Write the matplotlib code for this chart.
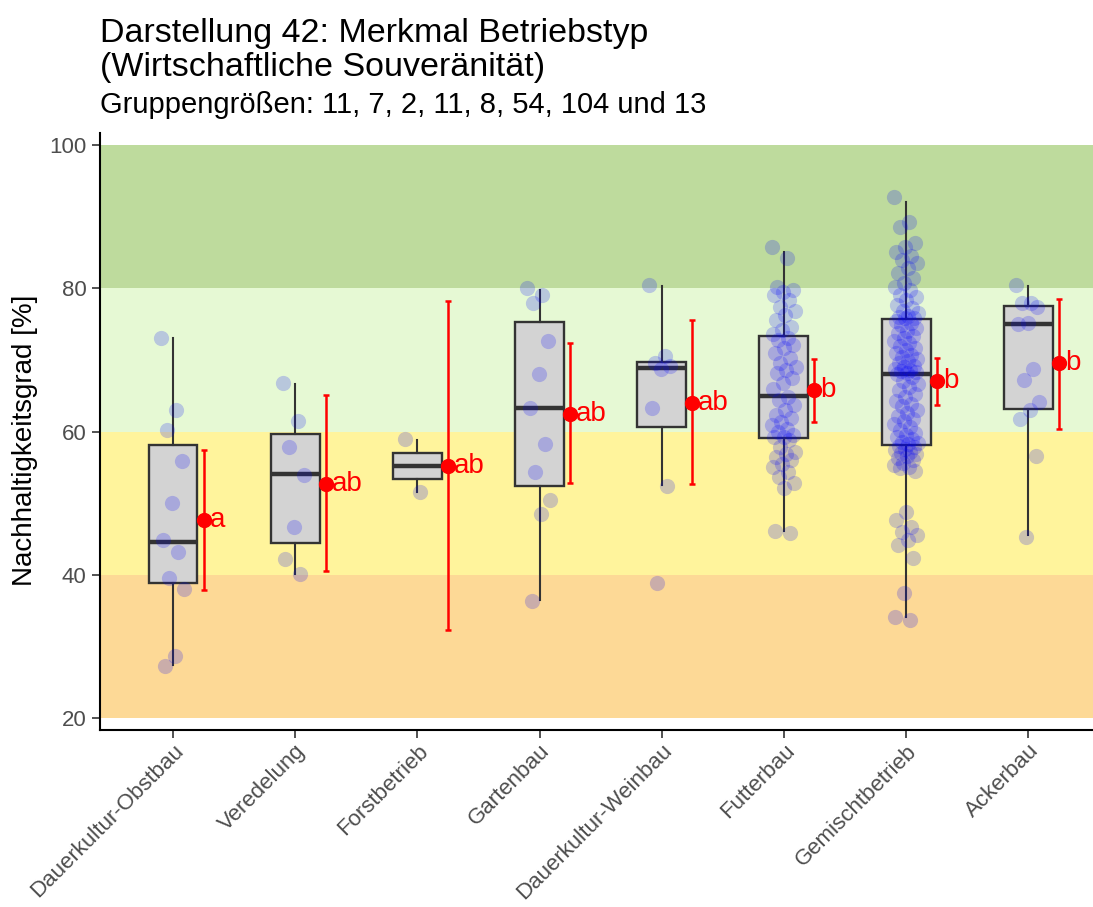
#!/usr/bin/env python3
"""Boxplot mit Einzelwerten, Mittelwert +/- KI und Buchstaben-Gruppen (Betriebstyp)."""

import numpy as np
import matplotlib
matplotlib.use('Agg')
import matplotlib.pyplot as plt

plt.rcParams['font.family'] = ['Liberation Sans', 'DejaVu Sans']

# --- Daten ---
categories = ['Dauerkultur-Obstbau', 'Veredelung', 'Forstbetrieb', 'Gartenbau',
              'Dauerkultur-Weinbau', 'Futterbau', 'Gemischtbetrieb', 'Ackerbau']

obstbau = [73.1, 63.0, 60.2, 55.9, 50.0, 44.8, 43.1, 39.6, 38.0, 28.6, 27.3]
veredelung = [66.8, 61.5, 57.8, 53.9, 46.6, 42.2, 40.1]
forst = [58.9, 51.5]
gartenbau = [80.1, 79.0, 77.9, 72.6, 68.0, 63.3, 58.2, 54.4, 50.4, 48.5, 36.3]
weinbau = [80.4, 70.6, 69.6, 69.2, 68.8, 63.3, 52.4, 38.9]
futterbau = [85.8, 84.2, 80.2, 79.8, 79.5, 79.1, 78.4, 77.4, 76.8, 76.3, 75.6, 74.6,
             74.2, 73.6, 73.0, 72.8, 72.1, 71.7, 71.0, 70.3, 69.6, 69.0, 68.6, 68.2,
             67.5, 66.8, 66.0, 64.8, 64.4, 63.7, 63.0, 62.3, 61.9, 61.3, 60.9, 60.4,
             60.0, 59.5, 59.3, 59.2, 58.8, 57.8, 57.1, 56.8, 56.4, 56.0, 55.5, 55.0,
             54.3, 53.6, 52.8, 52.1, 46.1, 45.8]
gemischt = [92.8, 89.3, 88.6, 86.3, 85.8, 85.1, 84.5, 83.9, 83.5, 82.8, 82.1, 81.4,
            80.7, 80.2, 79.8, 79.1, 78.8, 78.4, 77.7, 77.2, 76.9, 76.5, 76.2, 76.0,
            75.9, 75.8, 75.5, 75.2, 74.9, 74.5, 74.1, 73.8, 73.4, 73.0, 72.7, 72.4,
            72.0, 71.7, 71.4, 71.0, 70.7, 70.4, 70.1, 69.8, 69.5, 69.2, 69.0, 68.8,
            68.6, 68.4, 68.3, 68.2, 68.0, 67.6, 67.1, 66.6, 66.2, 65.8, 65.3, 64.8,
            64.3, 63.9, 63.5, 63.0, 62.6, 62.2, 61.8, 61.4, 61.0, 60.6, 60.2, 59.8,
            59.5, 59.2, 58.9, 58.6, 58.4, 58.2, 58.0, 57.8, 57.6, 57.4, 57.2, 57.0,
            56.8, 56.6, 56.3, 56.0, 55.6, 55.3, 55.0, 54.9, 54.5, 48.8, 47.6, 46.7,
            46.0, 45.5, 44.9, 44.2, 42.3, 37.4, 34.1, 33.7]
ackerbau = [80.4, 78.0, 77.9, 77.4, 75.2, 75.0, 68.8, 67.2, 64.1, 63.0, 61.7, 56.6, 45.3]

groups = [obstbau, veredelung, forst, gartenbau, weinbau, futterbau, gemischt, ackerbau]

# Boxplot-Kennwerte
q1 = [38.8, 44.4, 53.4, 52.4, 60.6, 59.1, 58.1, 63.2]
median = [44.6, 54.0, 55.2, 63.3, 68.9, 65.0, 68.1, 75.0]
q3 = [58.1, 59.7, 57.0, 75.3, 69.7, 73.3, 75.7, 77.5]
whisker_lo = [27.4, 40.1, 51.6, 36.4, 52.5, 46.1, 34.1, 45.5]
whisker_hi = [73.1, 66.7, 58.8, 79.7, 80.3, 85.1, 92.1, 80.3]

# Mittelwerte mit Konfidenzintervall und Buchstaben
means = [47.6, 52.6, 55.2, 62.5, 64.0, 65.8, 67.0, 69.6]
ci_lo = [37.9, 40.5, 32.3, 52.8, 52.6, 61.3, 63.7, 60.4]
ci_hi = [57.4, 65.1, 78.2, 72.3, 75.6, 70.1, 70.2, 78.5]
letters = ['a', 'ab', 'ab', 'ab', 'ab', 'b', 'b', 'b']

# Bewertungsbereiche
band_edges = [20, 40, 60, 80, 100]
band_colors = ['#FDD996', '#FFF49C', '#E6F9D4', '#BEDB9D']

fig = plt.figure(figsize=(10.93, 9.07), dpi=100)
ax = fig.add_axes([0.0912, 0.1951, 0.9088, 0.6583])

for lo, hi, col in zip(band_edges[:-1], band_edges[1:], band_colors):
    ax.axhspan(lo, hi, color=col, lw=0, zorder=0)

pos = np.arange(1, len(categories) + 1)
stats = [dict(med=m, q1=a, q3=b, whislo=wl, whishi=wh, fliers=[])
         for m, a, b, wl, wh in zip(median, q1, q3, whisker_lo, whisker_hi)]
ax.bxp(stats, positions=pos, widths=0.4, patch_artist=True, showfliers=False,
       showcaps=False,
       boxprops=dict(facecolor='#D3D3D3', edgecolor='#333333', linewidth=1.7),
       medianprops=dict(color='#333333', linewidth=3.2),
       whiskerprops=dict(color='#333333', linewidth=1.5),
       zorder=2)

# Einzelwerte mit deterministischem Jitter
for p, vals in zip(pos, groups):
    k = np.arange(len(vals))
    jitter = ((k * 0.618034) % 1.0 - 0.5) * 0.2
    ax.scatter(p + jitter, vals, s=120, color='blue', alpha=0.2, lw=0, zorder=3)

# Mittelwert + KI
xm = pos + 0.25
ax.errorbar(xm, means, yerr=[np.array(means) - np.array(ci_lo),
                             np.array(ci_hi) - np.array(means)],
            fmt='o', color='red', ms=10, elinewidth=1.8, capsize=2.5,
            capthick=1.8, zorder=4)
for x, m, t in zip(xm, means, letters):
    ax.text(x + 0.05, m, t, color='red', fontsize=20, ha='left', va='center',
            zorder=5)

ax.set_xlim(0.4, 8.53)
ax.set_ylim(18.3, 101.7)
ax.set_yticks([20, 40, 60, 80, 100])
ax.set_xticks(pos)
ax.set_xticklabels(categories, rotation=45, ha='right', rotation_mode='anchor')
ax.tick_params(axis='both', labelsize=16, colors='#4D4D4D', length=6, width=1.2)
ax.tick_params(axis='both', color='#333333')
ax.tick_params(axis='x', pad=1.5)
ax.set_ylabel('Nachhaltigkeitsgrad [%]', fontsize=20)
ax.yaxis.set_label_coords(-0.062, 0.486)

for side in ['top', 'right']:
    ax.spines[side].set_visible(False)
for side in ['left', 'bottom']:
    ax.spines[side].set_linewidth(1.5)
    ax.spines[side].set_color('black')

fig.text(100 / 1093, 1 - 42 / 907, 'Darstellung 42: Merkmal Betriebstyp',
         fontsize=24.5, ha='left', va='baseline')
fig.text(100 / 1093, 1 - 76 / 907, '(Wirtschaftliche Souveränität)',
         fontsize=24.5, ha='left', va='baseline')
fig.text(100 / 1093, 1 - 113 / 907,
         'Gruppengrößen: 11, 7, 2, 11, 8, 54, 104 und 13',
         fontsize=21, ha='left', va='baseline')

fig.savefig('out.png', dpi=100)
